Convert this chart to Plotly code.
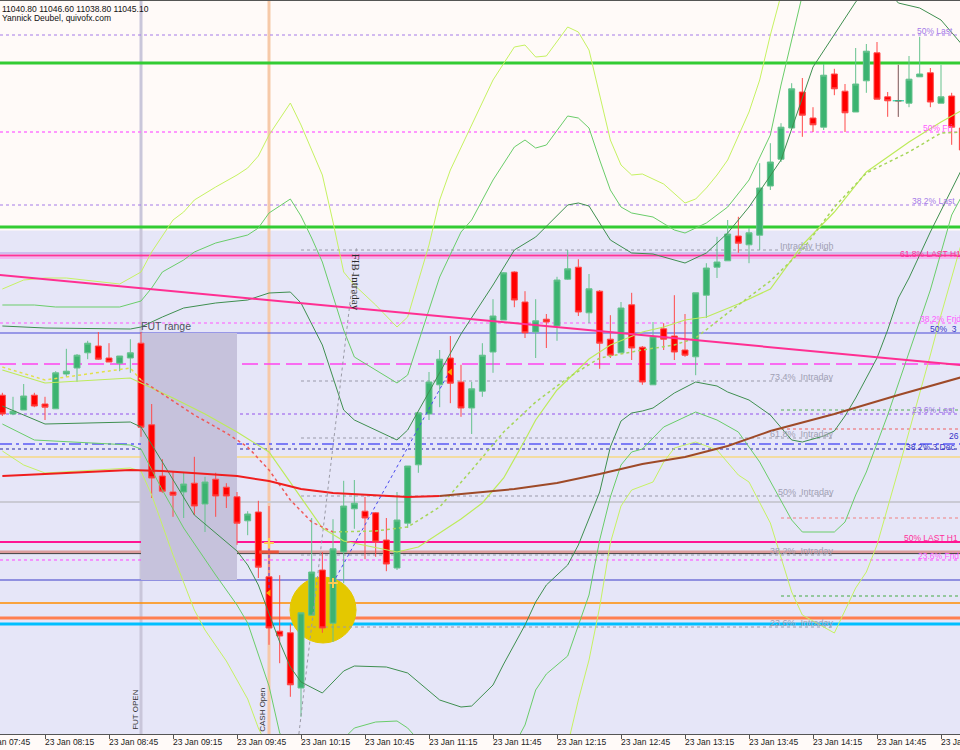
import pandas as pd
import plotly.graph_objects as go

DAY = "2019-01-23"
SESSION_START = pd.Timestamp(f"{DAY} 07:45")
BAR_MINUTES = 5
FIRST_BAR = 2  # first visible 5-min bar = 07:55

# ---------------- candles (5 min) ----------------
OPEN = [10983.2, 10978.5, 10979.5, 10983.2, 10981.0, 10979.8, 10988.5, 10990.0, 10993.8, 10995.5,
        10992.5, 10991.2, 10992.5, 10996.2, 10975.8, 10963.0, 10959.0, 10959.0, 10961.2, 10956.0,
        10962.2, 10960.2, 10957.8, 10951.8, 10954.0, 10937.8, 10924.2, 10923.8, 10910.0, 10928.2,
        10939.5, 10926.2, 10944.0, 10954.8, 10954.2, 10953.8, 10947.0, 10940.0, 10951.2, 10965.8,
        10978.5, 10985.8, 10992.5, 10986.5, 10980.0, 10984.2, 10994.0, 11002.0, 11014.0, 11006.5,
        10999.0, 11002.2, 11000.5, 11012.2, 11015.2, 11003.8, 11009.2, 10997.2, 10993.8, 11005.8,
        10995.2, 10985.8, 10999.8, 10998.0, 10994.5, 10992.8, 11008.2, 11015.2, 11016.8, 11023.0,
        11020.8, 11023.2, 11035.5, 11042.2, 11050.0, 11059.0, 11052.5, 11050.2, 11063.5, 11059.2,
        11054.0, 11061.8, 11068.8, 11057.8, 11056.8, 11056.2, 11062.8, 11063.8, 11056.2, 11058.0,
        11050.0]
HIGH = [10983.8, 10982.8, 10986.0, 10983.8, 10982.8, 10989.2, 10994.8, 10993.5, 10996.8, 10999.0,
        10996.2, 10993.0, 10997.2, 10999.0, 10981.0, 10967.2, 10964.2, 10963.8, 10967.8, 10962.8,
        10963.8, 10961.2, 10959.0, 10954.2, 10956.8, 10955.5, 10938.2, 10926.0, 10928.8, 10952.5,
        10944.0, 10952.2, 10961.8, 10962.0, 10957.8, 10954.0, 10952.5, 10959.0, 10965.5, 10978.8,
        10989.0, 10994.5, 10998.0, 10990.8, 10986.5, 10996.2, 11007.2, 11014.0, 11014.2, 11009.2,
        11007.2, 11003.5, 11012.8, 11019.5, 11017.2, 11013.5, 11009.5, 11003.2, 11006.5, 11008.8,
        10995.5, 11001.5, 11001.2, 11008.2, 11003.5, 11008.8, 11016.2, 11022.8, 11027.0, 11027.8,
        11025.0, 11041.2, 11046.2, 11051.2, 11061.2, 11062.5, 11055.2, 11066.0, 11064.8, 11061.0,
        11070.0, 11071.0, 11071.5, 11059.0, 11065.8, 11068.0, 11072.8, 11065.0, 11065.8, 11058.8,
        11050.2]
LOW = [10978.0, 10978.2, 10979.5, 10980.2, 10977.0, 10979.8, 10987.8, 10986.5, 10992.2, 10992.0,
       10991.5, 10989.2, 10988.8, 10972.8, 10957.5, 10958.8, 10952.8, 10952.5, 10953.2, 10949.0,
       10952.8, 10955.0, 10945.8, 10948.2, 10937.5, 10920.8, 10916.2, 10907.8, 10902.8, 10928.2,
       10923.8, 10921.5, 10936.2, 10949.8, 10942.2, 10942.8, 10939.2, 10939.5, 10950.0, 10963.8,
       10977.0, 10980.2, 10981.2, 10977.8, 10973.5, 10982.8, 10988.8, 11002.0, 11005.2, 10997.5,
       10992.5, 10995.0, 10996.8, 11012.0, 11003.0, 11001.2, 10989.8, 10992.5, 10993.8, 10992.0,
       10985.8, 10985.8, 10994.5, 10992.0, 10992.8, 10988.2, 11002.5, 11012.5, 11016.8, 11018.8,
       11016.2, 11019.5, 11034.5, 11041.5, 11050.0, 11047.8, 11049.0, 11049.5, 11058.2, 11049.0,
       11054.0, 11058.8, 11057.2, 11052.8, 11052.8, 11055.2, 11062.8, 11055.2, 11056.2, 11045.8,
       11044.5]
CLOSE = [10978.5, 10979.2, 10983.0, 10980.5, 10980.2, 10988.8, 10989.2, 10993.2, 10996.2, 10992.2,
         10991.5, 10993.0, 10993.8, 10975.2, 10962.5, 10959.2, 10958.2, 10961.0, 10955.5, 10961.5,
         10958.0, 10958.0, 10951.2, 10953.5, 10940.2, 10925.0, 10923.0, 10910.8, 10928.8, 10939.0,
         10925.0, 10944.8, 10955.5, 10956.2, 10952.5, 10946.5, 10941.0, 10952.0, 10965.5, 10978.8,
         10986.5, 10992.2, 10986.2, 10980.0, 10984.8, 10993.2, 11003.0, 11013.8, 11007.0, 10998.8,
         11001.8, 11001.5, 11012.0, 11014.8, 11004.0, 11009.8, 10996.2, 10993.2, 11005.0, 10995.0,
         10986.5, 10997.8, 10997.2, 10994.0, 10993.2, 11008.8, 11015.0, 11016.5, 11023.5, 11021.2,
         11023.8, 11035.0, 11041.5, 11050.2, 11059.8, 11053.2, 11050.8, 11063.2, 11059.8, 11053.8,
         11061.0, 11069.2, 11057.2, 11056.8, 11056.8, 11062.2, 11063.5, 11056.5, 11057.8, 11050.2,
         11044.5]
DOJI_BAR = 86

# ---------------- envelopes / bands (bar index -> value) ----------------
DGU_IDX = [2, 6, 14, 15, 17, 19, 22, 25, 27, 29, 30, 32, 34, 35, 39, 40, 42, 45, 48, 50,
           52, 55, 56, 57, 59, 61, 63, 66, 68, 70, 72, 75, 78, 80, 82, 84, 86, 88, 90, 92]
DGU_VAL = [11000.5, 11000.0, 10999.75, 11000.25, 11002.75, 11005.0, 11006.25, 11007.0, 11008.75, 11009.0,
           11006.25, 10995.75, 10979.5, 10977.0, 10972.0, 10974.5, 10984.0, 10998.5, 11010.75, 11019.5,
           11022.75, 11030.75, 11031.25, 11030.5, 11022.0, 11018.75, 11018.5, 11016.25, 11018.75, 11023.75,
           11030.25, 11042.0, 11065.25, 11073.25, 11081.5, 11087.5, 11081.25, 11080.0, 11077.0, 11070.75]
DGL_IDX = [2, 6, 14, 15, 17, 20, 24, 25, 26, 28, 29, 30, 32, 34, 35, 38, 40, 43, 45, 46,
           48, 49, 51, 52, 53, 55, 56, 58, 59, 60, 61, 62, 63, 65, 67, 69, 70, 72, 74, 76,
           77, 79, 80, 81, 82, 84, 85, 86, 87, 89, 92]
DGL_VAL = [10980.5, 10976.0, 10976.5, 10975.25, 10966.5, 10953.25, 10944.25, 10940.75, 10935.75, 10921.5,
           10915.25, 10911.5, 10908.75, 10914.25, 10915.5, 10915.25, 10913.75, 10907.0, 10905.25, 10905.5,
           10910.75, 10916.0, 10925.75, 10931.5, 10935.75, 10940.75, 10945.75, 10959.0, 10970.25, 10976.75,
           10978.75, 10979.25, 10980.0, 10983.75, 10986.5, 10985.5, 10984.0, 10982.0, 10978.25, 10972.0,
           10971.5, 10973.0, 10974.25, 10978.0, 10982.5, 10992.5, 10999.5, 11007.5, 11012.5, 11024.0,
           11040.0]
MGU_IDX = [2, 5, 7, 13, 15, 16, 17, 19, 20, 22, 25, 26, 27, 29, 30, 31, 32, 34, 35, 39,
           40, 42, 43, 45, 46, 48, 50, 51, 52, 53, 55, 56, 57, 58, 59, 60, 61, 63, 65, 66,
           68, 70, 72, 74, 75, 77, 80, 86, 92]
MGU_VAL = [11005.75, 11005.75, 11005.25, 11005.25, 11006.75, 11010.0, 11014.0, 11017.0, 11019.0, 11021.25,
           11023.25, 11025.0, 11028.75, 11032.25, 11028.0, 11022.5, 11016.5, 10999.5, 10992.75, 10986.25,
           10988.25, 11004.5, 11012.75, 11024.0, 11027.0, 11037.0, 11045.25, 11047.0, 11045.0, 11045.75,
           11053.0, 11052.5, 11050.0, 11042.0, 11034.5, 11030.25, 11028.75, 11027.75, 11024.5, 11023.75,
           11026.25, 11030.25, 11037.0, 11048.25, 11060.75, 11083.25, 11094.5, 11097.0, 11092.0]
MGL_IDX = [2, 5, 14, 15, 17, 19, 22, 24, 25, 27, 28, 30, 32, 34, 35, 37, 39, 40, 41, 44,
           48, 50, 51, 52, 53, 55, 56, 57, 58, 59, 60, 61, 62, 64, 67, 69, 71, 73, 76, 77,
           80, 81, 82, 83, 85, 87, 89, 91, 92]
MGL_VAL = [10976.0, 10972.0, 10970.75, 10969.75, 10959.5, 10950.0, 10938.25, 10930.75, 10926.25, 10910.5,
           10898.75, 10890.75, 10892.0, 10897.5, 10900.0, 10901.5, 10901.75, 10900.0, 10897.0, 10889.5,
           10889.5, 10895.75, 10900.75, 10909.5, 10913.5, 10918.0, 10925.75, 10933.25, 10947.0, 10957.75,
           10965.75, 10969.0, 10969.75, 10975.25, 10979.0, 10977.0, 10974.0, 10966.5, 10952.0, 10949.0,
           10949.0, 10951.5, 10958.25, 10964.0, 10978.25, 10994.0, 11009.5, 11028.25, 11033.25]
YGU_IDX = [2, 4, 6, 8, 13, 15, 16, 17, 18, 19, 20, 22, 24, 25, 26, 27, 29, 30, 32, 33,
           34, 35, 37, 39, 40, 42, 43, 44, 46, 48, 50, 51, 52, 53, 55, 56, 57, 58, 59, 60,
           61, 62, 64, 66, 67, 68, 69, 70, 72, 73, 74, 75, 78, 85, 92]
YGU_VAL = [11009.75, 11012.0, 11012.5, 11012.5, 11011.0, 11014.0, 11019.0, 11023.0, 11027.0, 11029.0,
           11032.0, 11035.25, 11038.25, 11040.0, 11043.0, 11048.25, 11056.25, 11050.75, 11038.25, 11026.5,
           11014.0, 11010.75, 11005.75, 11000.25, 11002.75, 11020.75, 11032.0, 11039.5, 11050.75, 11062.0,
           11070.25, 11070.75, 11067.75, 11068.0, 11075.25, 11074.0, 11069.5, 11058.25, 11047.0, 11040.75,
           11038.25, 11038.5, 11036.0, 11031.25, 11032.25, 11035.0, 11038.25, 11042.0, 11054.0, 11062.0,
           11073.25, 11083.25, 11102.0, 11107.0, 11102.0]
YGL_IDX = [2, 4, 6, 14, 15, 16, 18, 20, 21, 23, 25, 26, 27, 30, 40, 50, 54, 55, 56, 57,
           58, 59, 60, 61, 63, 64, 65, 67, 69, 71, 72, 74, 76, 77, 80, 82, 83, 84, 86, 88,
           89, 90, 92]
YGL_VAL = [10969.25, 10965.75, 10963.75, 10965.0, 10964.25, 10958.25, 10943.25, 10929.5, 10924.5, 10916.75,
           10907.25, 10900.0, 10894.5, 10884.5, 10882.0, 10882.0, 10889.5, 10895.75, 10907.0, 10917.0,
           10930.25, 10946.25, 10955.5, 10959.5, 10961.5, 10966.5, 10970.0, 10971.5, 10969.5, 10963.25,
           10961.5, 10951.25, 10934.0, 10928.25, 10923.75, 10935.0, 10939.0, 10945.75, 10964.5, 10983.25,
           10993.25, 11003.25, 11022.0]
BASIS_IDX = [2, 6, 14, 15, 18, 21, 24, 27, 30, 32, 34, 37, 39, 41, 43, 45, 47, 49, 51, 52,
             54, 57, 59, 62, 64, 66, 68, 71, 74, 77, 80, 83, 87, 90, 92]
BASIS_VAL = [10989.5, 10986.25, 10987.5, 10986.25, 10982.5, 10978.5, 10974.0, 10969.0, 10957.75, 10950.0,
             10946.75, 10945.0, 10944.0, 10945.25, 10948.75, 10952.25, 10956.25, 10962.5, 10972.0, 10977.0,
             10984.5, 10992.25, 10995.75, 10999.0, 11000.25, 11002.0, 11002.75, 11006.0, 11009.75, 11020.75,
             11029.0, 11039.0, 11046.5, 11051.5, 11054.5]
DMA_IDX = [2, 6, 14, 15, 17, 20, 23, 25, 27, 29, 31, 33, 37, 40, 43, 46, 49, 52, 55, 58,
           62, 65, 67, 70, 72, 74, 77, 80, 83, 87, 90, 92]
DMA_VAL = [10990.25, 10987.0, 10990.0, 10987.0, 10983.5, 10978.25, 10973.75, 10970.25, 10964.5, 10957.0,
           10951.5, 10949.0, 10949.25, 10950.25, 10955.25, 10964.5, 10974.0, 10981.5, 10987.5, 10992.5,
           10994.5, 10995.75, 10997.5, 11003.75, 11007.75, 11011.75, 11019.5, 11030.25, 11038.75, 11044.0,
           11048.75, 11049.0]
SMA_IDX = [2, 8, 14, 17, 24, 27, 30, 33, 36, 40, 43, 47, 50, 54, 58, 62, 66, 70, 74, 80, 86, 92]
SMA_VAL = [10963.0, 10963.75, 10964.5, 10964.25, 10963.0, 10961.75, 10959.75, 10958.75, 10958.25, 10957.75,
           10958.0, 10959.0, 10959.75, 10961.25, 10963.5, 10966.0, 10967.75, 10970.5, 10974.25, 10978.5,
           10983.25, 10987.75]

TREND_TIMES = ["07:45", "15:25"]
TREND_VAL = [11013.7, 10990.7]
FIB_TIMES = ["10:14", "10:41"]
FIB_VAL = [10898.5, 11020.0]
BLUE_TIMES = ["10:30", "11:25"]
BLUE_VAL = [10936.25, 10989.5]
BLUE_V_TIME = "10:00"
BLUE_V_VAL = [10946.25, 10932.75]
CROSS_TIMES = ["10:00", "10:30"]
CROSS_VAL = [10946.25, 10936.25]
TRI_TIMES = ["10:00", "11:25"]
TRI_VAL = [10933.75, 10989.0]
GOLD_TIME = "10:00"
GOLD_VAL = 10944.0

# ---------------- horizontal levels ----------------
LVL_50_LAST = 11073.25
GREEN_TOP = 11066.25
LVL_50_FRI = 11049.0
LVL_382_LAST = 11030.75
GREEN_BOT = 11025.25
INTRADAY_HIGH = 11019.5
H1_A = 11018.75
LVL_618_H1 = 11018.1
H1_B = 11017.5
LVL_382_FRI = 11001.25
LVL_50_3DEC = 10998.75
MAGENTA_DASH = 10991.0
INTRA_734 = 10986.75
GREEN_DOT_A = 10979.5
LVL_236_LAST = 10978.5
RED_DOT_A = 10974.75
INTRA_618 = 10972.5
LVL_382_3DEC = 10971.0
NAVY_DOT = 10969.75
GOLD_LINE = 10967.75
INTRA_50 = 10958.0
GRAY_LINE = 10956.5
RED_DOT_B = 10952.5
LVL_50_H1 = 10946.5
SALMON_LINE = 10944.0
DARK_LINE = 10943.6
INTRA_382 = 10943.25
LVL_236_FRI = 10942.0
SLATE_LINE = 10937.0
GREEN_DOT_B = 10933.0
ORANGE_LINE = 10931.25
CORAL_LINE = 10927.5
SKY_LINE = 10926.0
INTRA_236 = 10925.25

FUT_RANGE_TIMES = ["09:00", "09:45"]
FUT_RANGE_VAL = [10937.0, 10998.75]
TOP_ZONE_FROM = 11024.4
CIRCLE_TIMES = ["10:09:50", "10:40:48"]
CIRCLE_VAL = [10921.25, 10937.75]
FUT_OPEN_TIME = "09:00"
CASH_OPEN_TIME = "10:00"
INTRADAY_SPAN = ("10:15", "14:25")
RIGHT_SPAN = ("14:00", "15:30")

TICK_LABELS = ["23 Jan 07:45", "23 Jan 08:15", "23 Jan 08:45", "23 Jan 09:15", "23 Jan 09:45",
               "23 Jan 10:15", "23 Jan 10:45", "23 Jan 11:15", "23 Jan 11:45", "23 Jan 12:15",
               "23 Jan 12:45", "23 Jan 13:15", "23 Jan 13:45", "23 Jan 14:15", "23 Jan 14:45",
               "23 Jan 15:15"]

X_RANGE = [pd.Timestamp(f"{DAY} 07:53:54"), pd.Timestamp(f"{DAY} 15:23:54")]
Y_RANGE = [10898.5, 11081.75]


def bar_time(i):
    return SESSION_START + pd.Timedelta(minutes=BAR_MINUTES * i)


def at(hhmm):
    return pd.Timestamp(f"{DAY} {hhmm}")


def paper_x(t):
    return (t - X_RANGE[0]) / (X_RANGE[1] - X_RANGE[0])


FONT = "Liberation Sans"
fig = go.Figure()

times = [bar_time(FIRST_BAR + k) for k in range(len(OPEN))]
fig.add_trace(go.Candlestick(
    x=times, open=OPEN, high=HIGH, low=LOW, close=CLOSE, whiskerwidth=0,
    increasing=dict(fillcolor="#3CB371", line=dict(color="#66C28E", width=1)),
    decreasing=dict(fillcolor="#FF0000", line=dict(color="#FF4A4A", width=1)),
    showlegend=False, hoverinfo="skip"))
# doji bar (grey)
d = DOJI_BAR - FIRST_BAR
fig.add_trace(go.Scatter(x=[times[d], times[d]], y=[LOW[d], HIGH[d]], mode="lines",
                         line=dict(color="#808080", width=1), showlegend=False, hoverinfo="skip"))
fig.add_trace(go.Scatter(x=[times[d]], y=[CLOSE[d]], mode="markers",
                         marker=dict(symbol="line-ew-open", size=8, line=dict(color="#505050", width=1)),
                         showlegend=False, hoverinfo="skip"))


def add_line(idx, vals, color, width=1.0, dash="solid"):
    fig.add_trace(go.Scatter(x=[bar_time(i) for i in idx], y=vals, mode="lines",
                             line=dict(color=color, width=width, dash=dash),
                             showlegend=False, hoverinfo="skip"))


def segment(idx, vals, lo, hi):
    pts = [(i, v) for i, v in zip(idx, vals) if lo <= i <= hi]
    return [p[0] for p in pts], [p[1] for p in pts]


DG, MG, YG = "#3F8F50", "#6ACD6A", "#C6F262"
add_line(YGU_IDX, YGU_VAL, YG)
add_line(YGL_IDX, YGL_VAL, YG)
add_line(MGU_IDX, MGU_VAL, MG)
add_line(MGL_IDX, MGL_VAL, MG)
add_line(DGU_IDX, DGU_VAL, DG)
add_line(DGL_IDX, DGL_VAL, DG)
add_line(BASIS_IDX, BASIS_VAL, "#BDEB5A", 1.2)
add_line(*segment(DMA_IDX, DMA_VAL, 0, 15), "#E2E04A", 1.5, "dot")
add_line(*segment(DMA_IDX, DMA_VAL, 15, 33), "#F05A5A", 1.5, "dot")
add_line(*segment(DMA_IDX, DMA_VAL, 33, 99), "#A6D65A", 1.5, "dot")
add_line(*segment(SMA_IDX, SMA_VAL, 0, 43), "#F01E1E", 2)
add_line(*segment(SMA_IDX, SMA_VAL, 43, 99), "#9E4A28", 2)

fig.add_trace(go.Scatter(x=[at(t) for t in TREND_TIMES], y=TREND_VAL, mode="lines",
                         line=dict(color="#FF2F92", width=2), showlegend=False, hoverinfo="skip"))
fig.add_trace(go.Scatter(x=[at(t) for t in FIB_TIMES], y=FIB_VAL, mode="lines",
                         line=dict(color="#9A9AA6", width=1, dash="dot"), showlegend=False, hoverinfo="skip"))
fig.add_trace(go.Scatter(x=[at(t) for t in BLUE_TIMES], y=BLUE_VAL, mode="lines",
                         line=dict(color="#4A4AF0", width=1, dash="dot"), showlegend=False, hoverinfo="skip"))
fig.add_trace(go.Scatter(x=[at(BLUE_V_TIME)] * 2, y=BLUE_V_VAL, mode="lines",
                         line=dict(color="#4A4AF0", width=1, dash="dot"), showlegend=False, hoverinfo="skip"))
fig.add_trace(go.Scatter(x=[at(t) for t in CROSS_TIMES], y=CROSS_VAL, mode="markers",
                         marker=dict(symbol="cross-thin-open", size=7, line=dict(color="#2020E0", width=2)),
                         showlegend=False, hoverinfo="skip"))
fig.add_trace(go.Scatter(x=[at(t) for t in TRI_TIMES], y=TRI_VAL, mode="markers",
                         marker=dict(symbol="triangle-left", size=6, color="#FFA500"),
                         showlegend=False, hoverinfo="skip"))
fig.add_trace(go.Scatter(x=[at(GOLD_TIME)], y=[GOLD_VAL], mode="markers",
                         marker=dict(symbol="line-ew-open", size=14, line=dict(color="#F2B600", width=3)),
                         showlegend=False, hoverinfo="skip"))

shapes = []
shapes.append(dict(type="rect", xref="paper", x0=0, x1=1, yref="y", y0=TOP_ZONE_FROM, y1=11200,
                   fillcolor="#FFFAF8", line=dict(width=0), layer="below"))
shapes.append(dict(type="rect", xref="x", x0=at(FUT_RANGE_TIMES[0]), x1=at(FUT_RANGE_TIMES[1]),
                   yref="y", y0=FUT_RANGE_VAL[0], y1=FUT_RANGE_VAL[1],
                   fillcolor="#C6C2DC", line=dict(width=0), layer="below"))
shapes.append(dict(type="circle", xref="x", x0=at(CIRCLE_TIMES[0]), x1=at(CIRCLE_TIMES[1]),
                   yref="y", y0=CIRCLE_VAL[0], y1=CIRCLE_VAL[1],
                   fillcolor="#E4C800", line=dict(color="#E4C800", width=1), layer="below"))
shapes.append(dict(type="line", xref="x", x0=at(FUT_OPEN_TIME), x1=at(FUT_OPEN_TIME), yref="paper", y0=0, y1=1,
                   line=dict(color="#C9C6DA", width=3), layer="below"))
shapes.append(dict(type="line", xref="x", x0=at(CASH_OPEN_TIME), x1=at(CASH_OPEN_TIME), yref="paper", y0=0, y1=1,
                   line=dict(color="#F6C9A8", width=3), layer="below"))

FULL = None
HLINES = [
    (LVL_50_LAST, "#A57BE8", 1, "dot", FULL),
    (GREEN_TOP, "#33CC33", 3, "solid", FULL),
    (LVL_50_FRI, "#FF77FF", 1.5, "dot", FULL),
    (LVL_382_LAST, "#A57BE8", 1, "dot", FULL),
    (GREEN_BOT, "#33CC33", 3, "solid", FULL),
    (INTRADAY_HIGH, "#9A9AAA", 1, "dot", INTRADAY_SPAN),
    (H1_A, "#B49AE6", 1, "solid", FULL),
    (LVL_618_H1, "#FF3399", 2, "solid", FULL),
    (H1_B, "#FF88EE", 1, "solid", FULL),
    (LVL_382_FRI, "#FF55FF", 1.2, "dot", FULL),
    (LVL_50_3DEC, "#4B4BD6", 1, "solid", FULL),
    (MAGENTA_DASH, "#FF44EE", 1.5, "16px,6px", FULL),
    (INTRA_734, "#9A9AAA", 1, "dot", INTRADAY_SPAN),
    (GREEN_DOT_A, "#55AA55", 1, "dot", RIGHT_SPAN),
    (LVL_236_LAST, "#B084F0", 1.5, "dot", FULL),
    (RED_DOT_A, "#F06060", 1, "dot", RIGHT_SPAN),
    (INTRA_618, "#9A9AAA", 1, "dot", INTRADAY_SPAN),
    (LVL_382_3DEC, "#5A5AF5", 1.5, "12px,4px,3px,4px", FULL),
    (NAVY_DOT, "#2828A0", 1, "dot", FULL),
    (GOLD_LINE, "#FFD24A", 1, "solid", FULL),
    (INTRA_50, "#9A9AAA", 1, "dot", INTRADAY_SPAN),
    (GRAY_LINE, "#CACAD4", 2, "solid", FULL),
    (RED_DOT_B, "#F08080", 1, "dot", RIGHT_SPAN),
    (LVL_50_H1, "#FF1493", 2, "solid", FULL),
    (SALMON_LINE, "#DC9C9C", 3, "solid", FULL),
    (DARK_LINE, "#404040", 1, "solid", FULL),
    (INTRA_382, "#9A9AAA", 1, "dot", INTRADAY_SPAN),
    (LVL_236_FRI, "#FF44FF", 1, "dot", FULL),
    (SLATE_LINE, "#9090E0", 2, "solid", FULL),
    (GREEN_DOT_B, "#44AA44", 1, "dot", RIGHT_SPAN),
    (ORANGE_LINE, "#FF8C00", 1.5, "solid", FULL),
    (CORAL_LINE, "#FF7F50", 3, "solid", FULL),
    (SKY_LINE, "#00BFFF", 3, "solid", FULL),
    (INTRA_236, "#9A9AAA", 1, "dot", INTRADAY_SPAN),
]
for price, color, width, dash, span in HLINES:
    if span is None:
        shapes.append(dict(type="line", xref="paper", x0=0, x1=1, yref="y", y0=price, y1=price,
                           line=dict(color=color, width=width, dash=dash), layer="below"))
    else:
        shapes.append(dict(type="line", xref="x", x0=at(span[0]), x1=at(span[1]), yref="y", y0=price, y1=price,
                           line=dict(color=color, width=width, dash=dash), layer="below"))

ann = []
PURPLE, MAGENTA, PINK, BLUE, GREY = "#A57BE8", "#FF5CFF", "#FF2E9A", "#3535C8", "#A0A0B4"
RIGHT_LABELS = [
    ("50% Last", 917, LVL_50_LAST, "bottom", -3, PURPLE),
    ("50% Fri", 923, LVL_50_FRI, "bottom", -3, MAGENTA),
    ("38.2% Last", 912, LVL_382_LAST, "bottom", -3, PURPLE),
    ("61.8% LAST H1", 900, LVL_618_H1, "bottom", -5, PINK),
    ("38.2% Frid", 920, LVL_382_FRI, "bottom", -3, MAGENTA),
    ("50%  3", 930, LVL_50_3DEC, "bottom", -3, BLUE),
    ("23.6% Last", 912, LVL_236_LAST, "bottom", -3, PURPLE),
    ("26", 949, LVL_382_3DEC, "bottom", 1, BLUE),
    ("38.2% 3 Dec", 906, LVL_382_3DEC, "top", 4, BLUE),
    ("50% LAST H1", 904, LVL_50_H1, "bottom", -3, PINK),
    ("23.6% Frid", 918, LVL_236_FRI, "bottom", -3, MAGENTA),
]
for text, xpx, price, ya, ys, color in RIGHT_LABELS:
    ann.append(dict(text=text, xref="paper", x=xpx / 960, xanchor="left", xshift=-2,
                    yref="y", y=price, yanchor=ya, yshift=ys, showarrow=False,
                    font=dict(family=FONT, size=8.5, color=color)))
INTRA_LABELS = [("Intraday High", INTRADAY_HIGH), ("73.4%  Intraday", INTRA_734),
                ("61.8%  Intraday", INTRA_618), ("50%  Intraday", INTRA_50),
                ("38.2%  Intraday", INTRA_382), ("23.6%  Intraday", INTRA_236)]
for text, price in INTRA_LABELS:
    ann.append(dict(text=text, xref="x", x=at(INTRADAY_SPAN[1]), xanchor="right", xshift=2,
                    yref="y", y=price, yanchor="bottom", yshift=-3, showarrow=False,
                    font=dict(family=FONT, size=9, color=GREY)))

ann.append(dict(text="FUT range", xref="x", x=at(FUT_RANGE_TIMES[0]), xanchor="left", xshift=-2,
                yref="y", y=FUT_RANGE_VAL[1], yanchor="bottom", yshift=-1, showarrow=False,
                font=dict(family=FONT, size=10.5, color="#505060")))
ann.append(dict(text="FUT OPEN", xref="x", x=at(FUT_OPEN_TIME), xshift=-5, xanchor="center",
                yref="paper", y=0.033, yanchor="middle", textangle=-90, showarrow=False,
                font=dict(family=FONT, size=8, color="#333333")))
ann.append(dict(text="CASH Open", xref="x", x=at(CASH_OPEN_TIME), xshift=-6, xanchor="center",
                yref="paper", y=0.033, yanchor="middle", textangle=-90, showarrow=False,
                font=dict(family=FONT, size=8, color="#333333")))
ann.append(dict(text="FIB Intraday", xref="x", x=at("10:40"), xshift=2, xanchor="center",
                yref="y", y=11011.5, yanchor="middle", textangle=90, showarrow=False,
                font=dict(family="Liberation Serif", size=11, color="#2A2A2A")))
ann.append(dict(text="11040.80 11046.60 11038.80 11045.10", xref="paper", x=0,
                xanchor="left", yref="paper", y=1, yanchor="top", yshift=-1, showarrow=False,
                font=dict(family=FONT, size=8.5, color="#111111")))
ann.append(dict(text="Yannick Deubel, quivofx.com", xref="paper", x=0,
                xanchor="left", yref="paper", y=1, yanchor="top", yshift=-10, showarrow=False,
                font=dict(family=FONT, size=8.5, color="#111111")))

tick_times = [at(lbl.split(" ")[-1]) for lbl in TICK_LABELS]
for t, lbl in zip(tick_times, TICK_LABELS):
    ann.append(dict(text=lbl, xref="paper", x=paper_x(t), xanchor="left", xshift=-2,
                    yref="paper", y=0, yanchor="top", yshift=-1, showarrow=False,
                    font=dict(family=FONT, size=8.5, color="#222222")))

fig.update_layout(
    width=960, height=750,
    margin=dict(l=0, r=0, t=1, b=16),
    paper_bgcolor="#FFFAF8", plot_bgcolor="#E6E6F8",
    showlegend=False, shapes=shapes, annotations=ann, boxgap=0.2,
    xaxis=dict(type="date", range=X_RANGE,
               showgrid=False, zeroline=False, showline=True, linecolor="#555555", linewidth=1,
               mirror=True, ticks="outside", ticklen=4, tickcolor="#555555",
               tickvals=tick_times, showticklabels=False,
               rangeslider=dict(visible=False), fixedrange=True),
    yaxis=dict(range=Y_RANGE, showgrid=False, zeroline=False, showline=False,
               showticklabels=False, ticks="", fixedrange=True),
)

fig.write_html("out.html", config={"displayModeBar": False, "staticPlot": True},
               post_script="document.body.style.margin='0';document.body.style.overflow='hidden';")
